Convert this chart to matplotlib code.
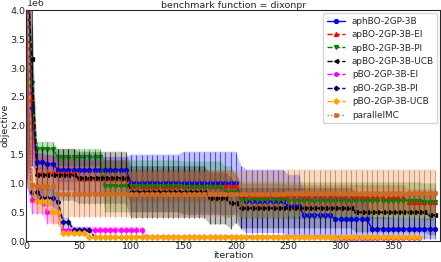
import numpy as np
import matplotlib
matplotlib.use("Agg")
import matplotlib.pyplot as plt
import seaborn as sns

sns.set_style("white")
plt.rcParams['font.family'] = ['DejaVu Sans']

# iterations (sampled every 5)
iters_long = list(range(0, 395, 5))
iters_short = list(range(0, 380, 5))

# means / std in units of 1e6
aph_mean = [5.0, 2.3, 1.37, 1.37, 1.34, 1.34, 1.24, 1.24, 1.24, 1.24,
            1.24, 1.24, 1.24, 1.24, 1.24, 1.24, 1.24, 1.24, 1.24, 1.24,
            1.0, 1.0, 1.0, 1.0, 1.0, 1.0, 1.0, 1.0, 1.0, 1.0,
            1.0, 1.0, 1.0, 1.0, 1.0, 1.0, 1.0, 1.0, 1.0, 1.0,
            1.0, 0.76, 0.69, 0.69, 0.69, 0.69, 0.69, 0.69, 0.69, 0.69,
            0.6, 0.6, 0.6, 0.45, 0.45, 0.45, 0.45, 0.45, 0.45, 0.38,
            0.38, 0.38, 0.38, 0.38, 0.38, 0.38, 0.21, 0.21, 0.21, 0.21,
            0.21, 0.21, 0.21, 0.21, 0.21, 0.21, 0.21, 0.21, 0.21]
aph_std = [4.0, 1.0, 0.15, 0.15, 0.15, 0.15, 0.22, 0.22, 0.22, 0.22,
           0.22, 0.22, 0.22, 0.22, 0.22, 0.22, 0.22, 0.22, 0.22, 0.22,
           0.5, 0.5, 0.5, 0.5, 0.5, 0.5, 0.5, 0.5, 0.5, 0.5,
           0.55, 0.55, 0.55, 0.55, 0.55, 0.55, 0.55, 0.55, 0.55, 0.55,
           0.55, 0.55, 0.55, 0.55, 0.55, 0.55, 0.55, 0.55, 0.55, 0.55,
           0.55, 0.55, 0.55, 0.42, 0.42, 0.42, 0.42, 0.42, 0.42, 0.42,
           0.4, 0.4, 0.4, 0.4, 0.4, 0.4, 0.2, 0.2, 0.2, 0.2,
           0.18, 0.18, 0.18, 0.18, 0.18, 0.18, 0.18, 0.18, 0.18]

ei_mean = [5.0, 2.45, 1.18, 1.18, 1.18, 1.18, 1.18, 1.18, 1.18, 1.18,
           1.1, 1.1, 1.1, 1.1, 1.1, 1.1, 1.1, 1.1, 1.1, 1.1,
           0.95, 0.95, 0.95, 0.95, 0.95, 0.95, 0.95, 0.95, 0.95, 0.95,
           0.95, 0.95, 0.95, 0.95, 0.95, 0.95, 0.95, 0.95, 0.95, 0.95,
           0.95, 0.77, 0.77, 0.77, 0.77, 0.77, 0.77, 0.77, 0.77, 0.77,
           0.75, 0.75, 0.75, 0.75, 0.75, 0.75, 0.75, 0.75, 0.75, 0.75,
           0.75, 0.75, 0.75, 0.75, 0.75, 0.75, 0.75, 0.75, 0.75, 0.75,
           0.75, 0.75, 0.75, 0.68, 0.68, 0.68, 0.68, 0.68, 0.68]
ei_std = [4.0, 1.0, 0.3, 0.3, 0.3, 0.3, 0.3, 0.3, 0.3, 0.3,
          0.3, 0.3, 0.3, 0.3, 0.3, 0.3, 0.3, 0.3, 0.3, 0.3,
          0.28, 0.28, 0.28, 0.28, 0.28, 0.28, 0.28, 0.28, 0.28, 0.28,
          0.28, 0.28, 0.28, 0.28, 0.28, 0.28, 0.28, 0.28, 0.28, 0.28,
          0.22, 0.22, 0.22, 0.22, 0.22, 0.22, 0.22, 0.22, 0.22, 0.22,
          0.22, 0.22, 0.22, 0.22, 0.22, 0.22, 0.22, 0.22, 0.22, 0.22,
          0.22, 0.22, 0.22, 0.22, 0.22, 0.22, 0.22, 0.22, 0.22, 0.22,
          0.22, 0.22, 0.22, 0.22, 0.22, 0.22, 0.22, 0.22, 0.22]

pi_mean = [5.0, 2.75, 1.6, 1.6, 1.6, 1.6, 1.45, 1.45, 1.45, 1.45,
           1.45, 1.45, 1.45, 1.45, 1.45, 0.95, 0.95, 0.95, 0.95, 0.95,
           0.95, 0.95, 0.95, 0.95, 0.95, 0.95, 0.95, 0.95, 0.95, 0.95,
           0.93, 0.93, 0.93, 0.93, 0.93, 0.93, 0.93, 0.93, 0.85, 0.85,
           0.85, 0.71, 0.71, 0.71, 0.71, 0.71, 0.71, 0.71, 0.71, 0.71,
           0.7, 0.7, 0.7, 0.7, 0.7, 0.7, 0.7, 0.7, 0.7, 0.7,
           0.7, 0.7, 0.7, 0.7, 0.7, 0.7, 0.7, 0.7, 0.7, 0.7,
           0.7, 0.7, 0.7, 0.7, 0.7, 0.7, 0.68, 0.68, 0.68]
pi_std = [4.0, 1.0, 0.12, 0.12, 0.12, 0.12, 0.15, 0.15, 0.15, 0.15,
          0.15, 0.15, 0.15, 0.15, 0.15, 0.45, 0.45, 0.45, 0.45, 0.45,
          0.45, 0.45, 0.45, 0.45, 0.45, 0.45, 0.45, 0.45, 0.45, 0.45,
          0.45, 0.45, 0.45, 0.45, 0.45, 0.45, 0.45, 0.45, 0.45, 0.45,
          0.32, 0.32, 0.32, 0.32, 0.32, 0.32, 0.32, 0.32, 0.32, 0.32,
          0.32, 0.32, 0.32, 0.32, 0.32, 0.32, 0.32, 0.32, 0.32, 0.32,
          0.32, 0.32, 0.32, 0.32, 0.32, 0.32, 0.32, 0.32, 0.32, 0.32,
          0.32, 0.32, 0.32, 0.32, 0.32, 0.32, 0.32, 0.32, 0.32]

ucb_mean = [5.0, 3.15, 1.15, 1.15, 1.15, 1.15, 1.15, 1.15, 1.15, 1.15,
            1.1, 1.1, 1.1, 1.1, 1.1, 1.1, 1.1, 1.1, 1.1, 1.1,
            0.85, 0.85, 0.85, 0.85, 0.85, 0.85, 0.85, 0.85, 0.85, 0.85,
            0.85, 0.85, 0.85, 0.85, 0.85, 0.74, 0.74, 0.74, 0.74, 0.66,
            0.66, 0.57, 0.57, 0.57, 0.57, 0.57, 0.57, 0.57, 0.57, 0.57,
            0.57, 0.57, 0.57, 0.57, 0.57, 0.57, 0.57, 0.57, 0.57, 0.57,
            0.57, 0.57, 0.57, 0.5, 0.5, 0.5, 0.5, 0.5, 0.5, 0.5,
            0.5, 0.5, 0.5, 0.5, 0.5, 0.5, 0.5, 0.45, 0.45]
ucb_std = [4.0, 1.2, 0.45, 0.45, 0.45, 0.45, 0.45, 0.45, 0.45, 0.45,
           0.45, 0.45, 0.45, 0.45, 0.45, 0.45, 0.45, 0.45, 0.45, 0.45,
           0.45, 0.45, 0.45, 0.45, 0.45, 0.45, 0.45, 0.45, 0.45, 0.45,
           0.45, 0.45, 0.45, 0.45, 0.45, 0.45, 0.45, 0.45, 0.45, 0.45,
           0.35, 0.35, 0.35, 0.35, 0.35, 0.35, 0.35, 0.35, 0.35, 0.35,
           0.35, 0.35, 0.35, 0.35, 0.35, 0.35, 0.35, 0.35, 0.35, 0.35,
           0.35, 0.35, 0.35, 0.35, 0.35, 0.35, 0.35, 0.35, 0.35, 0.35,
           0.35, 0.35, 0.35, 0.35, 0.35, 0.35, 0.35, 0.35, 0.35]

mc_mean = [5.0, 0.97, 0.95, 0.95, 0.95, 0.95, 0.82, 0.82, 0.82, 0.82,
           0.82, 0.82, 0.82, 0.82, 0.82, 0.82, 0.82, 0.82, 0.82, 0.82,
           0.82, 0.82, 0.82, 0.82, 0.82, 0.82, 0.82, 0.82, 0.82, 0.82,
           0.82, 0.82, 0.82, 0.82, 0.82, 0.82, 0.82, 0.82, 0.82, 0.82,
           0.82, 0.82, 0.82, 0.82, 0.82, 0.82, 0.82, 0.82, 0.82, 0.82,
           0.84, 0.84, 0.84, 0.84, 0.84, 0.84, 0.84, 0.84, 0.84, 0.84,
           0.84, 0.84, 0.84, 0.84, 0.84, 0.84, 0.84, 0.84, 0.84, 0.84,
           0.84, 0.84, 0.84, 0.84, 0.84, 0.84, 0.84, 0.84, 0.84]
mc_std = [4.0, 0.3, 0.3, 0.3, 0.3, 0.3, 0.4, 0.4, 0.4, 0.4,
          0.4, 0.4, 0.4, 0.4, 0.4, 0.4, 0.4, 0.4, 0.4, 0.4,
          0.4, 0.4, 0.4, 0.4, 0.4, 0.4, 0.4, 0.4, 0.4, 0.4,
          0.4, 0.4, 0.4, 0.4, 0.4, 0.4, 0.4, 0.4, 0.4, 0.4,
          0.4, 0.4, 0.4, 0.4, 0.4, 0.4, 0.4, 0.4, 0.4, 0.4,
          0.4, 0.4, 0.4, 0.4, 0.4, 0.4, 0.4, 0.4, 0.4, 0.4,
          0.4, 0.4, 0.4, 0.4, 0.4, 0.4, 0.4, 0.4, 0.4, 0.4,
          0.4, 0.4, 0.4, 0.4, 0.4, 0.4, 0.4, 0.4, 0.4]

pei_mean = [5.0, 0.72, 0.72, 0.72, 0.5, 0.5, 0.5, 0.19, 0.19, 0.19,
            0.19, 0.19, 0.19, 0.19, 0.19, 0.19, 0.19, 0.19, 0.19, 0.19,
            0.19, 0.19, 0.19, 0.07, 0.07, 0.07, 0.07, 0.07, 0.07, 0.07,
            0.07, 0.07, 0.07, 0.07, 0.07, 0.07, 0.07, 0.07, 0.07, 0.07,
            0.07, 0.07, 0.07, 0.07, 0.07, 0.07, 0.07, 0.07, 0.07, 0.07,
            0.07, 0.07, 0.07, 0.07, 0.07, 0.07, 0.07, 0.07, 0.07, 0.07,
            0.06, 0.06, 0.06, 0.06, 0.06, 0.06, 0.06, 0.06, 0.06, 0.06,
            0.06, 0.06, 0.06, 0.06, 0.06, 0.06]
pei_std = [4.0, 0.25, 0.25, 0.25, 0.2, 0.2, 0.2, 0.06, 0.06, 0.06,
           0.06, 0.06, 0.06, 0.06, 0.06, 0.06, 0.06, 0.06, 0.06, 0.06,
           0.06, 0.06, 0.06, 0.03, 0.03, 0.03, 0.03, 0.03, 0.03, 0.03,
           0.03, 0.03, 0.03, 0.03, 0.03, 0.03, 0.03, 0.03, 0.03, 0.03,
           0.03, 0.03, 0.03, 0.03, 0.03, 0.03, 0.03, 0.03, 0.03, 0.03,
           0.03, 0.03, 0.03, 0.03, 0.03, 0.03, 0.03, 0.03, 0.03, 0.03,
           0.03, 0.03, 0.03, 0.03, 0.03, 0.03, 0.03, 0.03, 0.03, 0.03,
           0.03, 0.03, 0.03, 0.03, 0.03, 0.03]

ppi_mean = [5.0, 0.85, 0.85, 0.75, 0.75, 0.75, 0.68, 0.33, 0.33, 0.2,
            0.2, 0.2, 0.2, 0.07, 0.07, 0.07, 0.07, 0.07, 0.07, 0.07,
            0.07, 0.07, 0.07, 0.07, 0.07, 0.07, 0.07, 0.07, 0.07, 0.07,
            0.07, 0.07, 0.07, 0.07, 0.07, 0.07, 0.07, 0.07, 0.07, 0.07,
            0.07, 0.07, 0.07, 0.07, 0.07, 0.07, 0.07, 0.07, 0.07, 0.07,
            0.07, 0.07, 0.07, 0.07, 0.07, 0.07, 0.07, 0.07, 0.07, 0.07,
            0.07, 0.07, 0.07, 0.07, 0.07, 0.07, 0.07, 0.07, 0.07, 0.07,
            0.07, 0.07, 0.07, 0.07, 0.07, 0.07]
ppi_std = [4.0, 0.15, 0.15, 0.15, 0.15, 0.15, 0.15, 0.08, 0.08, 0.04,
           0.04, 0.04, 0.04, 0.02, 0.02, 0.02, 0.02, 0.02, 0.02, 0.02,
           0.02, 0.02, 0.02, 0.02, 0.02, 0.02, 0.02, 0.02, 0.02, 0.02,
           0.02, 0.02, 0.02, 0.02, 0.02, 0.02, 0.02, 0.02, 0.02, 0.02,
           0.02, 0.02, 0.02, 0.02, 0.02, 0.02, 0.02, 0.02, 0.02, 0.02,
           0.02, 0.02, 0.02, 0.02, 0.02, 0.02, 0.02, 0.02, 0.02, 0.02,
           0.02, 0.02, 0.02, 0.02, 0.02, 0.02, 0.02, 0.02, 0.02, 0.02,
           0.02, 0.02, 0.02, 0.02, 0.02, 0.02]

pucb_mean = [5.0, 0.97, 0.7, 0.7, 0.7, 0.5, 0.5, 0.14, 0.14, 0.14,
             0.14, 0.14, 0.07, 0.07, 0.07, 0.07, 0.07, 0.07, 0.07, 0.07,
             0.07, 0.07, 0.07, 0.07, 0.07, 0.07, 0.07, 0.07, 0.07, 0.07,
             0.07, 0.07, 0.07, 0.07, 0.07, 0.07, 0.07, 0.07, 0.07, 0.07,
             0.07, 0.07, 0.07, 0.07, 0.07, 0.07, 0.07, 0.07, 0.07, 0.07,
             0.07, 0.07, 0.07, 0.07, 0.07, 0.07, 0.07, 0.07, 0.07, 0.07,
             0.07, 0.07, 0.07, 0.07, 0.07, 0.07, 0.07, 0.07, 0.07, 0.07,
             0.07, 0.07, 0.07, 0.07, 0.07, 0.07]
pucb_std = [4.0, 0.2, 0.2, 0.2, 0.2, 0.2, 0.2, 0.06, 0.06, 0.06,
            0.06, 0.06, 0.025, 0.025, 0.025, 0.025, 0.025, 0.025, 0.025, 0.025,
            0.025, 0.025, 0.025, 0.025, 0.025, 0.025, 0.025, 0.025, 0.025, 0.025,
            0.025, 0.025, 0.025, 0.025, 0.025, 0.025, 0.025, 0.025, 0.025, 0.025,
            0.025, 0.025, 0.025, 0.025, 0.025, 0.025, 0.025, 0.025, 0.025, 0.025,
            0.025, 0.025, 0.025, 0.025, 0.025, 0.025, 0.025, 0.025, 0.025, 0.025,
            0.025, 0.025, 0.025, 0.025, 0.025, 0.025, 0.025, 0.025, 0.025, 0.025,
            0.025, 0.025, 0.025, 0.025, 0.025, 0.025]

series = [
    ("aphBO-2GP-3B", iters_long, aph_mean, aph_std, "blue", "o", "-"),
    ("apBO-2GP-3B-EI", iters_long, ei_mean, ei_std, "red", "^", "--"),
    ("apBO-2GP-3B-PI", iters_long, pi_mean, pi_std, "green", "v", "--"),
    ("apBO-2GP-3B-UCB", iters_long, ucb_mean, ucb_std, "black", "<", "--"),
    ("pBO-2GP-3B-EI", iters_short, pei_mean, pei_std, "magenta", "h", "--"),
    ("pBO-2GP-3B-PI", iters_short, ppi_mean, ppi_std, "navy", "P", "--"),
    ("pBO-2GP-3B-UCB", iters_short, pucb_mean, pucb_std, "orange", "D", "--"),
    ("parallelMC", iters_long, mc_mean, mc_std, "chocolate", "X", ":"),
]

fig = plt.figure(figsize=(4.41, 2.62), dpi=100)
ax = fig.add_axes([0.060, 0.080, 0.938, 0.880])

for name, x, m, s, c, mk, ls in series:
    x = np.array(x)
    m = np.array(m) * 1e6
    s = np.array(s) * 1e6
    ax.fill_between(x, m - s, m + s, color=c, alpha=0.24, linewidth=0)
    ax.errorbar(x, m, yerr=s, fmt="none", ecolor=c, elinewidth=0.8, alpha=0.6)
    ax.plot(x, m, linestyle=ls, color=c, marker=mk, markersize=2.8,
            linewidth=1.0, label=name)

fs = 6.8
ax.set_xlim(0, 395)
ax.set_ylim(0, 4e6)
ax.set_xticks([0, 50, 100, 150, 200, 250, 300, 350])
ax.set_yticks([0, 0.5e6, 1e6, 1.5e6, 2e6, 2.5e6, 3e6, 3.5e6, 4e6])
ax.tick_params(labelsize=fs, pad=1, length=0)
ax.yaxis.get_offset_text().set_fontsize(fs)
ax.yaxis.get_offset_text().set_y(0.97)
ax.set_xlabel("iteration", fontsize=fs, labelpad=0)
ax.set_ylabel("objective", fontsize=fs, labelpad=0)
ax.set_title("benchmark function = dixonpr", fontsize=fs, pad=1.5)
ax.legend(loc="upper right", fontsize=6.4, frameon=True, borderaxespad=0.3,
          handlelength=2.0, labelspacing=0.5)

fig.savefig("out.png", dpi=100)
